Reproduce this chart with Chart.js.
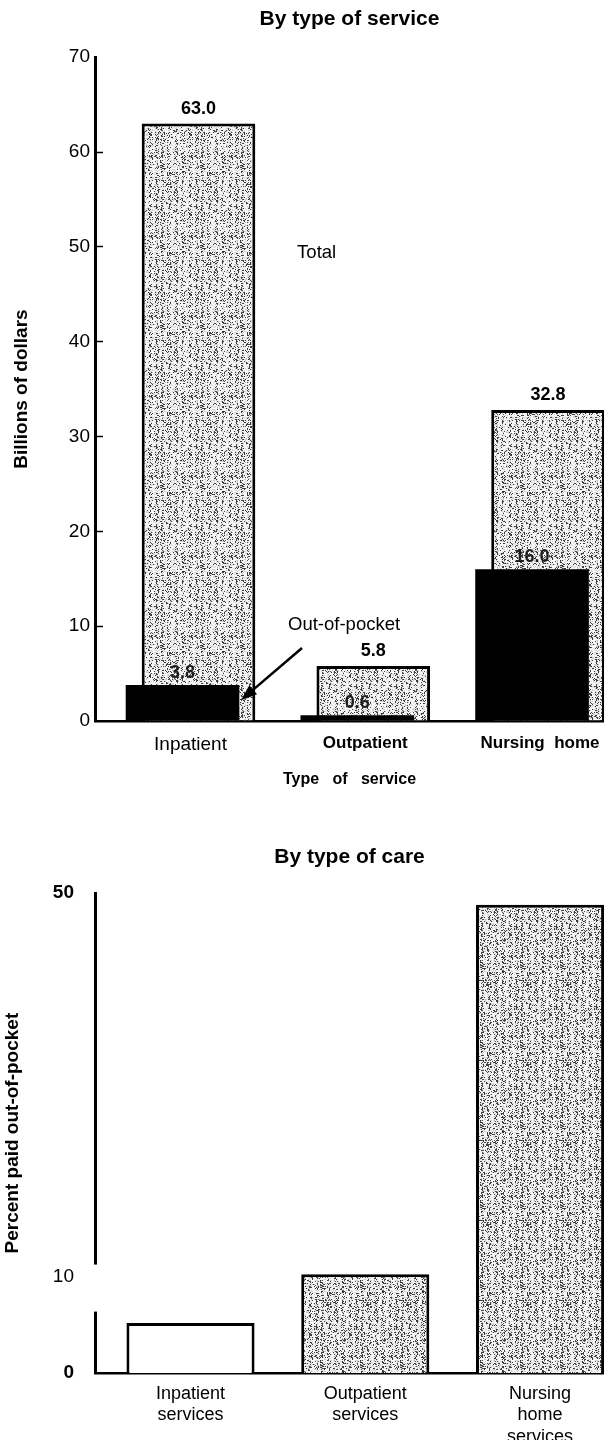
<!DOCTYPE html>
<html>
<head>
<meta charset="utf-8">
<script src="https://cdn.jsdelivr.net/npm/chart.js@4.4.0/dist/chart.umd.min.js"></script>
<style>
  html, body { margin: 0; padding: 0; background: #fff; width: 604px; height: 1440px; overflow: hidden; }
  canvas { position: absolute; left: 0; display: block; }
  #spending { top: 0; }
  #share { top: 800px; }
</style>
</head>
<body>
<canvas id="spending" width="604" height="800"></canvas>
<canvas id="share" width="604" height="640"></canvas>
<script>
// Spending by type of service (billions of dollars)
const serviceTypes = ['Inpatient', 'Outpatient', 'Nursing  home'];
const totalBillions = [63.0, 5.8, 32.8];
const outOfPocketBillions = [3.8, 0.6, 16.0];
const spendingTicks = [0, 10, 20, 30, 40, 50, 60, 70];

// Share paid out-of-pocket by type of care (percent)
const careTypes = [['Inpatient', 'services'], ['Outpatient', 'services'], ['Nursing', 'home', 'services']];
const percentOutOfPocket = [5.2, 10.3, 48.8];
const percentTicks = [0, 10, 50];

const FONT = "'Liberation Sans', Arial, Helvetica, sans-serif";
Chart.defaults.font.family = FONT;
Chart.defaults.color = '#000';
Chart.defaults.animation = false;

// Visible window of the shared category axis (index units)
const X_MIN = -0.5465, X_MAX = 2.366;

// Grey halftone fill used for the shaded bars
function stipple(target, shade) {
  const w = 40, h = 80;
  const c = document.createElement('canvas');
  c.width = w; c.height = h;
  const g = c.getContext('2d');
  const img = g.createImageData(w, h);
  for (let y = 0; y < h; y++) {
    for (let x = 0; x < w; x++) {
      const n = Math.sin(x * 12.9898 + y * 78.233) * 43758.5453;
      const r = n - Math.floor(n);
      const streak = 0.5 + 0.5 * Math.sin(x * 0.9);
      let v = 246;
      if (r < shade * (0.4 + 1.2 * streak)) v = 50 + 100 * r;
      else if (r > 0.8) v = 205;
      const k = (y * w + x) * 4;
      img.data[k] = img.data[k + 1] = img.data[k + 2] = v;
      img.data[k + 3] = 255;
    }
  }
  g.putImageData(img, 0, 0);
  return target.getContext('2d').createPattern(c, 'repeat');
}

const toPoints = arr => arr.map((v, i) => ({ x: i, y: v }));

// Value labels above each bar
const valueLabels = {
  id: 'valueLabels',
  afterDatasetsDraw(chart) {
    const ctx = chart.ctx;
    chart.data.datasets.forEach((ds, di) => {
      if (!ds.valueLabel) return;
      const meta = chart.getDatasetMeta(di);
      meta.data.forEach((bar, i) => {
        ctx.save();
        ctx.font = 'bold 18px ' + FONT;
        ctx.fillStyle = ds.valueLabel.color;
        ctx.textAlign = 'center';
        ctx.textBaseline = 'middle';
        ctx.fillText(ds.data[i].y.toFixed(1), bar.x, bar.y - ds.valueLabel.gap);
        ctx.restore();
      });
    });
  }
};

// "Total" / "Out-of-pocket" callouts, anchored in axis units
const callouts = {
  id: 'callouts',
  afterDatasetsDraw(chart) {
    const { ctx, scales: { x, y } } = chart;
    ctx.save();
    ctx.fillStyle = '#000';
    ctx.font = '18.5px ' + FONT;
    ctx.textAlign = 'left';
    ctx.textBaseline = 'middle';
    ctx.fillText('Total', x.getPixelForValue(0.61), y.getPixelForValue(49.4));
    ctx.fillText('Out-of-pocket', x.getPixelForValue(0.558), y.getPixelForValue(10.1));
    // arrow toward the inpatient out-of-pocket bar
    const x1 = x.getPixelForValue(0.638), y1 = y.getPixelForValue(7.7);
    const x2 = x.getPixelForValue(0.289), y2 = y.getPixelForValue(2.2);
    const a = Math.atan2(y2 - y1, x2 - x1);
    ctx.strokeStyle = '#000';
    ctx.lineWidth = 2.5;
    ctx.beginPath();
    ctx.moveTo(x1, y1);
    ctx.lineTo(x2 - 10 * Math.cos(a), y2 - 10 * Math.sin(a));
    ctx.stroke();
    ctx.beginPath();
    ctx.moveTo(x2, y2);
    ctx.lineTo(x2 - 16 * Math.cos(a) + 6 * Math.sin(a), y2 - 16 * Math.sin(a) - 6 * Math.cos(a));
    ctx.lineTo(x2 - 16 * Math.cos(a) - 6 * Math.sin(a), y2 - 16 * Math.sin(a) + 6 * Math.cos(a));
    ctx.closePath();
    ctx.fill();
    ctx.restore();
  }
};

const spendingCanvas = document.getElementById('spending');
new Chart(spendingCanvas, {
  type: 'bar',
  data: {
    datasets: [
      {
        label: 'Out-of-pocket',
        data: toPoints(outOfPocketBillions),
        backgroundColor: '#000',
        borderWidth: 0,
        valueLabel: { color: '#1e1e1e', gap: 12 }
      },
      {
        label: 'Total',
        data: toPoints(totalBillions),
        backgroundColor: stipple(spendingCanvas, 0.2),
        borderColor: '#000',
        borderWidth: 3,
        borderSkipped: 'bottom',
        valueLabel: { color: '#000', gap: 15 }
      }
    ]
  },
  options: {
    responsive: false,
    devicePixelRatio: 1,
    layout: { padding: 0 },
    categoryPercentage: 32 / 174.75,
    barPercentage: 7.1,
    plugins: {
      legend: { display: false },
      tooltip: { enabled: false },
      title: {
        display: true,
        text: 'By type of service',
        fullSize: false,
        font: { size: 21, weight: 'bold' },
        padding: { top: 7, bottom: 25 }
      }
    },
    scales: {
      x: {
        type: 'linear',
        offset: false,
        min: X_MIN,
        max: X_MAX,
        afterBuildTicks: s => { s.ticks = serviceTypes.map((_, i) => ({ value: i })); },
        afterFit: s => { s.height = 79; },
        grid: { display: false },
        border: { display: true, color: '#000', width: 2.5 },
        ticks: {
          autoSkip: false,
          maxRotation: 0,
          padding: 4,
          callback: v => serviceTypes[v],
          font: c => c.index === 0 ? { size: 19 } : { size: 17, weight: 'bold' }
        },
        title: {
          display: true,
          text: 'Type   of   service',
          font: { size: 16, weight: 'bold' },
          padding: { top: 0, bottom: 11 }
        }
      },
      y: {
        min: 0,
        max: 70,
        afterBuildTicks: s => { s.ticks = spendingTicks.map(v => ({ value: v })); },
        afterFit: s => { s.width = 95; },
        grid: {
          display: true,
          drawOnChartArea: false,
          tickLength: -8,
          tickWidth: 1.5,
          tickColor: c => (c.tick && (c.tick.value === 0 || c.tick.value === 70)) ? 'rgba(0,0,0,0)' : '#000'
        },
        border: { display: true, color: '#000', width: 3 },
        ticks: { padding: 13, font: { size: 19 } },
        title: {
          display: true,
          text: 'Billions of dollars',
          font: { size: 19, weight: 'bold' },
          padding: { top: 10, bottom: 0 }
        }
      }
    }
  },
  plugins: [valueLabels, callouts]
});

// Gap in the percent axis between the low and high tick ranges
const axisBreak = {
  id: 'axisBreak',
  afterDraw(chart) {
    const { ctx, chartArea, scales: { y } } = chart;
    ctx.save();
    ctx.fillStyle = '#fff';
    const top = y.getPixelForValue(11.3), bottom = y.getPixelForValue(6.4);
    ctx.fillRect(chartArea.left - 3, top, 6, bottom - top);
    ctx.restore();
  }
};

const shareCanvas = document.getElementById('share');
const shareFill = stipple(shareCanvas, 0.24);
new Chart(shareCanvas, {
  type: 'bar',
  data: {
    datasets: [{
      label: 'Percent paid out-of-pocket',
      data: toPoints(percentOutOfPocket),
      backgroundColor: ['#fff', shareFill, shareFill],
      borderColor: '#000',
      borderWidth: 3,
      borderSkipped: 'bottom'
    }]
  },
  options: {
    responsive: false,
    devicePixelRatio: 1,
    layout: { padding: 0 },
    categoryPercentage: 1,
    barPercentage: 0.733,
    plugins: {
      legend: { display: false },
      tooltip: { enabled: false },
      title: {
        display: true,
        text: 'By type of care',
        fullSize: false,
        font: { size: 21, weight: 'bold' },
        padding: { top: 45, bottom: 23 }
      }
    },
    scales: {
      x: {
        type: 'linear',
        offset: false,
        min: X_MIN,
        max: X_MAX,
        afterBuildTicks: s => { s.ticks = careTypes.map((_, i) => ({ value: i })); },
        afterFit: s => { s.height = 67; },
        grid: { display: false },
        border: { display: true, color: '#000', width: 2.5 },
        ticks: {
          autoSkip: false,
          maxRotation: 0,
          padding: 2,
          callback: v => careTypes[v],
          font: { size: 18 }
        }
      },
      y: {
        min: 0,
        max: 50,
        afterBuildTicks: s => { s.ticks = percentTicks.map(v => ({ value: v })); },
        afterFit: s => { s.width = 95; },
        grid: { display: false },
        border: { display: true, color: '#000', width: 3 },
        ticks: {
          padding: 13,
          font: c => (c.tick && c.tick.value === 10) ? { size: 19 } : { size: 19, weight: 'bold' }
        },
        title: {
          display: true,
          text: 'Percent paid out-of-pocket',
          font: { size: 19, weight: 'bold' },
          padding: { top: 1, bottom: 0 }
        }
      }
    }
  },
  plugins: [axisBreak]
});
</script>
</body>
</html>
